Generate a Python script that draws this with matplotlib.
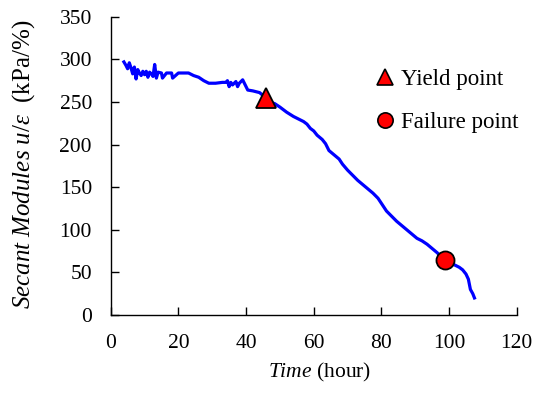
import matplotlib
matplotlib.use("Agg")
import matplotlib.pyplot as plt
from matplotlib.lines import Line2D

plt.rcParams['font.family'] = ['Liberation Serif', 'DejaVu Serif']
plt.rcParams['mathtext.fontset'] = 'custom'
plt.rcParams['mathtext.rm'] = 'Liberation Serif'
plt.rcParams['mathtext.it'] = 'Liberation Serif:italic'

time_h = [3.9, 4.5, 5.0, 5.5, 6.0, 6.5, 7.0, 7.5, 8.0, 8.5, 9.0, 9.5, 10.0, 10.5, 11.0,
          11.5, 12.0, 12.5, 13.0, 13.5, 14.0, 15.0, 15.3, 16.5, 18.0, 18.3, 20.0, 23.0,
          24.5, 26.0, 27.5, 29.0, 31.0, 33.0, 34.0, 34.5, 35.0, 35.5, 36.0, 37.0, 37.5,
          38.0, 39.0, 40.0, 40.5, 42.0, 44.0, 45.8, 47.0, 48.5, 50.0, 52.0, 54.0, 55.5,
          57.0, 58.0, 59.0, 60.0, 61.0, 62.5, 63.5, 64.5, 66.0, 67.5, 68.5, 70.0, 71.5,
          73.0, 74.5, 76.0, 77.5, 79.0, 80.5, 81.5, 83.0, 84.5, 86.0, 87.5, 89.0, 90.5,
          92.0, 93.5, 95.0, 96.5, 98.0, 99.0, 100.0, 101.5, 103.0, 104.0, 105.0, 105.7,
          106.0, 106.3, 107.0, 107.5]
modulus = [297, 293, 289, 296, 290, 283, 291, 277, 288, 284, 281, 286, 282, 286, 279,
           285, 283, 280, 294, 278, 285, 284, 278, 284, 284, 278, 284, 284,
           281, 279, 275, 272, 272, 273, 273, 275, 268, 273, 270, 274, 268,
           272, 276, 268, 264, 263, 261, 255, 250, 248, 244, 238, 233, 230,
           227, 224, 219, 216, 211, 206, 201, 193, 188, 183, 177, 170, 164,
           158, 153, 148, 143, 137, 128, 122, 116, 110, 105, 100, 95, 90,
           87, 83, 78, 73, 67, 64, 62, 59, 56, 53, 48, 42,
           36, 30, 25, 20]

yield_pt = (45.8, 255)
failure_pt = (98.8, 64)

fig = plt.figure(figsize=(5.48, 4.03), dpi=100)
ax = fig.add_axes([0.202, 0.2184, 0.741, 0.74])

ax.plot(time_h, modulus, color='#0000ff', lw=2.3, zorder=2)
ax.plot([yield_pt[0]], [yield_pt[1]], ls='none', marker='^', ms=14, mfc='red', mec='black',
        mew=1.3, zorder=3)
ax.plot([failure_pt[0]], [failure_pt[1]], ls='none', marker='o', ms=13, mfc='red', mec='black',
        mew=1.3, zorder=3)

ax.set_xlim(0, 120)
ax.set_ylim(0, 350)
ax.set_xticks(range(0, 121, 20))
ax.set_yticks(range(0, 351, 50))
ax.spines['top'].set_visible(False)
ax.spines['right'].set_visible(False)
for s in ['left', 'bottom']:
    ax.spines[s].set_linewidth(1.0)
ax.tick_params(direction='in', length=6, width=1, labelsize=15.5)
ax.tick_params(axis='x', pad=14)
ax.tick_params(axis='y', pad=13.5)

ax.set_xlabel(r'$\mathit{Time}$ (hour)', fontsize=15.5)
ax.set_ylabel(r'$\mathit{Secant\ Modules\ u/ε}$  (kPa/%)', fontsize=18)
ax.xaxis.set_label_coords(0.515, -0.155)
ax.yaxis.set_label_coords(-0.182, 0.505)

handles = [Line2D([], [], ls='none', marker='^', ms=11, mfc='red', mec='black', mew=1.2),
           Line2D([], [], ls='none', marker='o', ms=11, mfc='red', mec='black', mew=1.2)]
ax.legend(handles, ['Yield point', 'Failure point'], loc='upper left',
          bbox_to_anchor=(0.603, 0.893), frameon=False, fontsize=16.5,
          handlelength=0.8, handletextpad=0.3, labelspacing=0.95, numpoints=1)

fig.savefig('out.png', dpi=100)
